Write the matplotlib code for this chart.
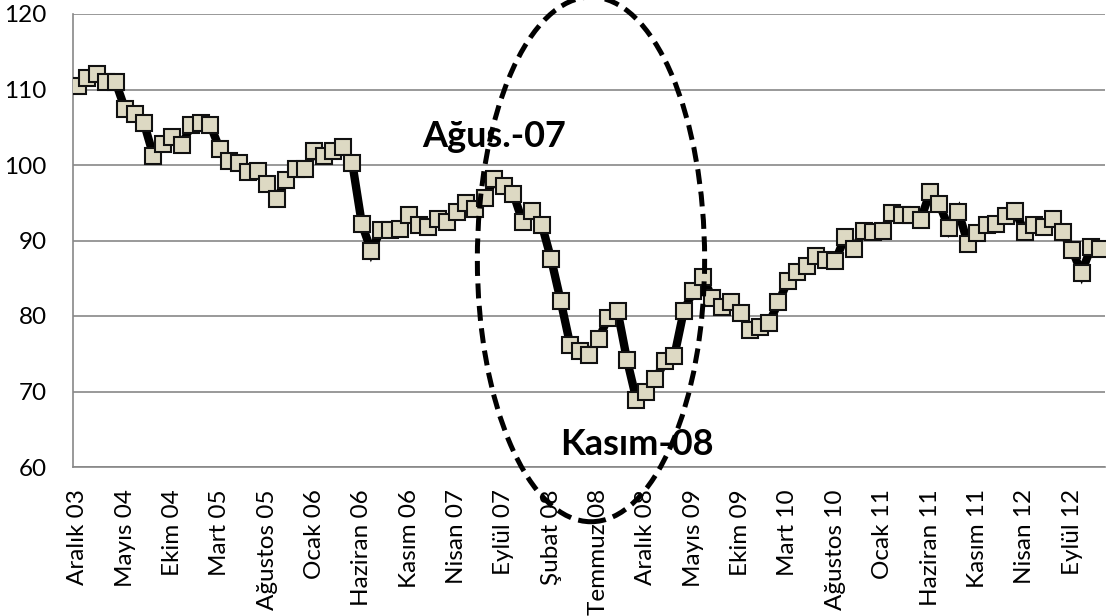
import matplotlib
matplotlib.use("Agg")
import matplotlib.pyplot as plt
from matplotlib.patches import Ellipse
import numpy as np

plt.rcParams['font.family'] = ['Lato', 'DejaVu Sans']

# Monthly index values, Aralık 2003 ... Aralık 2012
values = [
    110.4, 111.5, 112.0, 111.0, 111.0, 107.4, 106.7, 105.5, 101.2, 102.8,
    103.7, 102.7, 105.3, 105.5, 105.3, 102.1, 100.5, 100.3, 99.1, 99.2,
    97.5, 95.5, 98.0, 99.5, 99.5, 101.8, 101.2, 101.8, 102.4, 100.2,
    92.2, 88.6, 91.4, 91.4, 91.5, 93.4, 92.0, 91.8, 92.8, 92.4,
    93.8, 95.0, 94.2, 95.6, 98.2, 97.2, 96.2, 92.4, 93.9, 92.1,
    87.5, 82.0, 76.2, 75.3, 74.9, 76.9, 79.8, 80.7, 74.2, 68.9,
    69.9, 71.6, 74.0, 74.7, 80.7, 83.3, 85.2, 82.4, 81.2, 81.8,
    80.4, 78.2, 78.6, 79.1, 81.8, 84.7, 85.8, 86.6, 88.0, 87.4,
    87.3, 90.4, 88.9, 91.3, 91.1, 91.2, 93.7, 93.4, 93.4, 92.7,
    96.4, 94.8, 91.6, 93.8, 89.6, 91.0, 92.0, 92.2, 93.2, 93.9,
    91.1, 92.0, 91.8, 92.8, 91.1, 88.8, 85.7, 89.1, 88.9,
]

tick_labels = [
    "Aralık 03", "Mayıs 04", "Ekim 04", "Mart 05", "Ağustos 05", "Ocak 06",
    "Haziran 06", "Kasım 06", "Nisan 07", "Eylül 07", "Şubat 08", "Temmuz 08",
    "Aralık 08", "Mayıs 09", "Ekim 09", "Mart 10", "Ağustos 10", "Ocak 11",
    "Haziran 11", "Kasım 11", "Nisan 12", "Eylül 12",
]
tick_step = 5
y_ticks = [60, 70, 80, 90, 100, 110, 120]

annotations = [("Ağus.-07", 44, 103.8), ("Kasım-08", 59, 63.0)]
ellipse_center = (54.2, 87.5)
ellipse_size = (24.0, 69.5)

n = len(values)
x = np.arange(n)

fig = plt.figure(figsize=(11.06, 6.16), dpi=100)
ax = fig.add_axes([73 / 1106, (616 - 467) / 616, 1032.2 / 1106, (467 - 14) / 616])

ax.plot(x, values, color='black', lw=6, marker='s', markersize=11,
        markerfacecolor='#DDD9C3', markeredgecolor='#111111', markeredgewidth=1.5,
        zorder=3, solid_joinstyle='miter')

ax.set_xlim(-0.5, n - 0.5)
ax.set_ylim(60, 120)
ax.set_yticks(y_ticks)
ax.set_xticks(x[::tick_step][:len(tick_labels)])
ax.set_xticklabels(tick_labels, rotation=90, fontsize=17.5)
for lab in ax.get_yticklabels():
    lab.set_fontsize(17.5)
ax.tick_params(axis='both', length=0)
ax.tick_params(axis='x', pad=16)
ax.tick_params(axis='y', pad=19)

ax.yaxis.grid(True, color='#878787', lw=1.2)
ax.set_axisbelow(True)
for s in ['top', 'right']:
    ax.spines[s].set_visible(False)
for s in ['left', 'bottom']:
    ax.spines[s].set_color('#878787')
    ax.spines[s].set_linewidth(1.2)

ell = Ellipse(ellipse_center, ellipse_size[0], ellipse_size[1], fill=False,
              edgecolor='black', lw=3.6, linestyle=(0, (3, 1.5)), clip_on=False, zorder=4)
ax.add_patch(ell)

for txt, xi, yi in annotations:
    ax.text(xi, yi, txt, fontsize=26, fontweight='bold', ha='center', va='center', zorder=5)

fig.savefig("out.png", dpi=100)
